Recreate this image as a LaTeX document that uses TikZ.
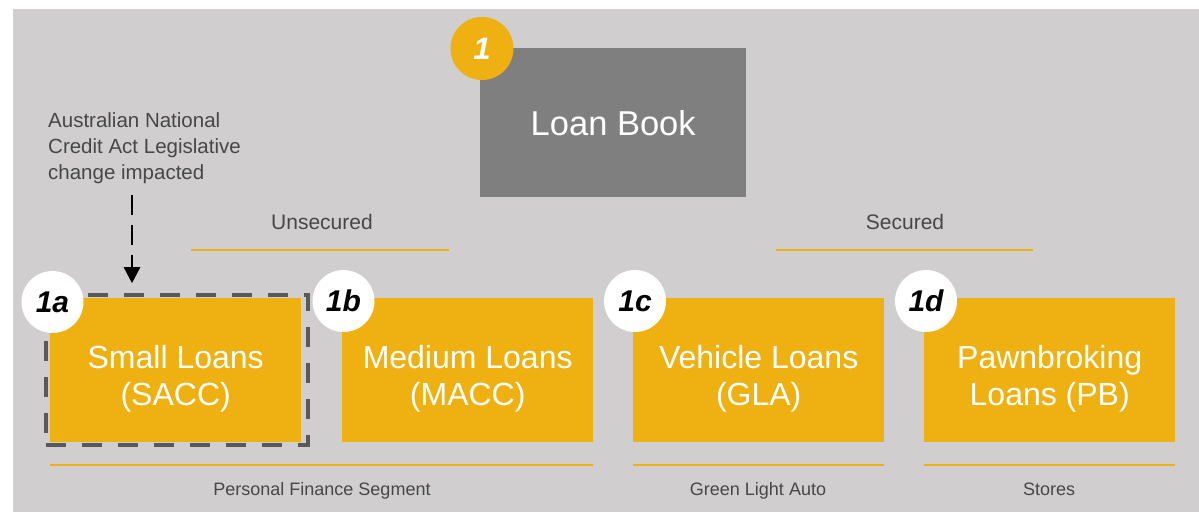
\documentclass[tikz,border=0pt]{standalone}
\usepackage{fontspec}
\setmainfont{Liberation Sans}
\usetikzlibrary{arrows.meta}
\definecolor{panel}{HTML}{D0CECE}
\definecolor{gold}{HTML}{EEB111}
\definecolor{bookgrey}{HTML}{7F7F7F}
\definecolor{framegrey}{HTML}{595959}
\definecolor{notegrey}{HTML}{474747}
\begin{document}
\begin{tikzpicture}[x=1pt,y=-1pt,
  loanbox/.style={fill=gold, minimum width=251pt, minimum height=144pt,
    inner sep=0pt, anchor=north west},
  boxtext/.style={text=white, align=center, inner sep=0pt,
    font=\fontsize{32}{37}\selectfont, yshift=-9pt},
  badge/.style={circle, fill=white, minimum size=62pt, inner sep=0pt,
    font=\fontsize{30}{30}\selectfont\bfseries\itshape},
  rule/.style={draw=gold, line width=2pt},
  caption/.style={text=notegrey, inner sep=0pt, anchor=base,
    font=\fontsize{21}{21}\selectfont},
  footcaption/.style={text=notegrey, inner sep=0pt, anchor=base,
    font=\fontsize{18}{18}\selectfont},
]
% canvas: white margin on the left and top, grey panel elsewhere
\useasboundingbox (0,0) rectangle (1199,512);
\fill[white] (0,0) rectangle (1199,512);
\fill[panel] (13,9) rectangle (1199,512);

% top level
\node[fill=bookgrey, minimum width=266pt, minimum height=149pt, inner sep=0pt,
  anchor=north west, text=white, font=\fontsize{34.5}{34.5}\selectfont]
  (book) at (480,48) {Loan Book};

% segment headings
\node[caption] (unsec) at (322,229.5) {Unsecured};
\node[caption] (sec) at (905,229.5) {Secured};
\coordinate (unsecL) at (191,250);
\coordinate (unsecR) at (449,250);
\coordinate (secL) at (776,250);
\coordinate (secR) at (1033,250);
\draw[rule] (unsecL) -- (unsecR);
\draw[rule] (secL) -- (secR);

% product boxes
\node[loanbox, label={[boxtext]center:{Small Loans\\(SACC)}}] (small) at (50,298) {};
\node[loanbox, label={[boxtext]center:{Medium Loans\\(MACC)}}] (medium) at (342,298) {};
\node[loanbox, label={[boxtext]center:{Vehicle Loans\\(GLA)}}] (vehicle) at (633,298) {};
\node[loanbox, label={[boxtext]center:{Pawnbroking\\Loans (PB)}}] (pawn) at (924,298) {};

% highlighted product
\node[draw=framegrey, line width=4pt, dash pattern=on 20pt off 16pt,
  minimum width=262pt, minimum height=150pt, inner sep=0pt]
  (frame) at ([xshift=1pt]small.center) {};

% note with its pointer
\node[anchor=north west, align=left, text=notegrey, inner sep=0pt,
  font=\fontsize{20.5}{26}\selectfont] (note) at (48,112)
  {Australian National\\Credit Act Legislative\\change impacted};
\coordinate (notetail) at (132,195);
\draw[black, line width=2.5pt, dash pattern=on 20pt off 10pt,
  -{Triangle[width=16pt,length=16pt]}, shorten >=10pt]
  (notetail) -- (notetail |- frame.north);

% badges
\node[circle, fill=gold, minimum size=63pt, inner sep=0pt, text=white,
  font=\fontsize{31}{31}\selectfont\bfseries\itshape]
  (b1) at ([xshift=2pt,yshift=-0.5pt]book.north west) {1};
\node[badge] (b1a) at ([xshift=2.5pt,yshift=-4pt]small.north west) {1a};
\node[badge] (b1b) at ([xshift=1.5pt,yshift=-3pt]medium.north west) {1b};
\node[badge] (b1c) at ([xshift=2pt,yshift=-3pt]vehicle.north west) {1c};
\node[badge] (b1d) at ([xshift=2pt,yshift=-3pt]pawn.north west) {1d};

% business units under the products
\draw[rule] ([yshift=-23pt]small.south west) -- ([yshift=-23pt]medium.south east);
\draw[rule] ([yshift=-23pt]vehicle.south west) -- ([yshift=-23pt]vehicle.south east);
\draw[rule] ([yshift=-23pt]pawn.south west) -- ([yshift=-23pt]pawn.south east);
\node[footcaption] (pfs) at (322,495.5) {Personal Finance Segment};
\node[footcaption] (gla) at (758,495.5) {Green Light Auto};
\node[footcaption] (stores) at (1049,495.5) {Stores};
\end{tikzpicture}
\end{document}
